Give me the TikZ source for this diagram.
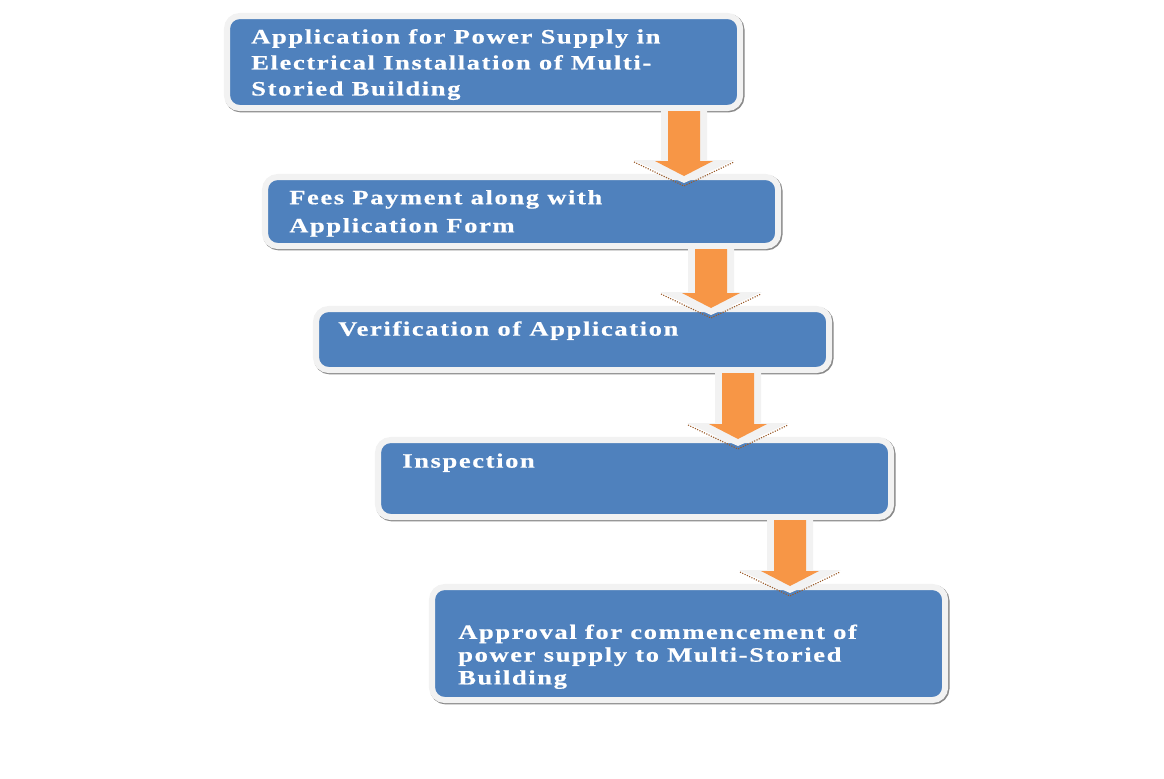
\documentclass[tikz,border=0pt]{standalone}
\usepackage{fontspec}
\newfontfamily\flowfont{Liberation Serif}[FakeStretch=1.3,LetterSpace=8,FakeBold=0.6]
\usepackage{xcolor}
\usepackage{tikz}
\usetikzlibrary{positioning,calc}
\definecolor{CBlue}{HTML}{4F81BD}
\definecolor{COrange}{HTML}{F79646}
\definecolor{CRim}{HTML}{F2F2F2}
\definecolor{CEdge}{HTML}{8A8A8A}
\definecolor{CBrown}{HTML}{9A5B2A}

% block arrow: x position (px), upper box, lower box
\newcommand{\flowarrow}[3]{%
  \path (#1,0) coordinate (ax);
  \coordinate (as) at (ax |- #2.south);
  \coordinate (ae) at (ax |- #3.north);
  \draw[CBrown, densely dotted, line width=0.8pt]
    ($(ae)+(-50,-15)$) -- ($(ae)+(0,9)$) -- ($(ae)+(50,-15)$);
  \fill[CRim] ($(as)+(-23,3)$) -- ($(ae)+(-23,-17)$) -- ($(ae)+(-51,-17)$)
    -- ($(ae)+(0,6)$) -- ($(ae)+(51,-17)$) -- ($(ae)+(23,-17)$)
    -- ($(as)+(23,3)$) -- cycle;
  \fill[COrange] ($(as)+(-16,3)$) -- ($(ae)+(-16,-16)$) -- ($(ae)+(-29,-16)$)
    -- ($(ae)+(0,-1)$) -- ($(ae)+(29,-16)$) -- ($(ae)+(16,-16)$)
    -- ($(as)+(16,3)$) -- cycle;
}

\begin{document}
\begin{tikzpicture}[x=0.025cm, y=-0.025cm,
  stepbox/.style={draw=CRim, fill=CBlue, line width=4.3pt, rounded corners=9pt,
                  anchor=north west, minimum width=12.825cm, inner sep=0pt, outer sep=0pt,
                  preaction={draw=CEdge, line width=4.6pt,
                             transform canvas={shift={(0.8pt,-0.8pt)}}}},
  steptext/.style={inner sep=0pt, anchor=north west, align=left, text=white,
                   font=\flowfont\bfseries\fontsize{14.5}{18.5}\selectfont}]
\useasboundingbox (0,0) rectangle (1164,778);
\node[stepbox, minimum height=2.3cm]   (apply)   at (227,16)  {};
\node[stepbox, minimum height=1.725cm] (fees)    at (265,177) {};
\node[stepbox, minimum height=1.525cm] (verify)  at (316,309) {};
\node[stepbox, minimum height=1.925cm] (inspect) at (378,440) {};
\node[stepbox, minimum height=2.825cm] (approve) at (432,587) {};

\node[steptext, below right=0.32cm and 0.6cm of apply.north west] (applyText)
  {Application for Power Supply in\\Electrical Installation of Multi-\\Storied Building};
\node[steptext, below right=0.32cm and 0.6cm of fees.north west] (feesText)
  {Fees Payment along with\\[1.5pt]Application Form};
\node[steptext, below right=0.3cm and 0.55cm of verify.north west] (verifyText)
  {Verification of Application};
\node[steptext, below right=0.33cm and 0.6cm of inspect.north west] (inspectText)
  {Inspection};
\node[steptext, below right=0.93cm and 0.65cm of approve.north west,
      font=\flowfont\bfseries\fontsize{14.5}{16.2}\selectfont] (approveText)
  {Approval for commencement of\\power supply to Multi-Storied\\Building};

\flowarrow{684}{apply}{fees}
\flowarrow{711}{fees}{verify}
\flowarrow{738}{verify}{inspect}
\flowarrow{790}{inspect}{approve}
\end{tikzpicture}
\end{document}
